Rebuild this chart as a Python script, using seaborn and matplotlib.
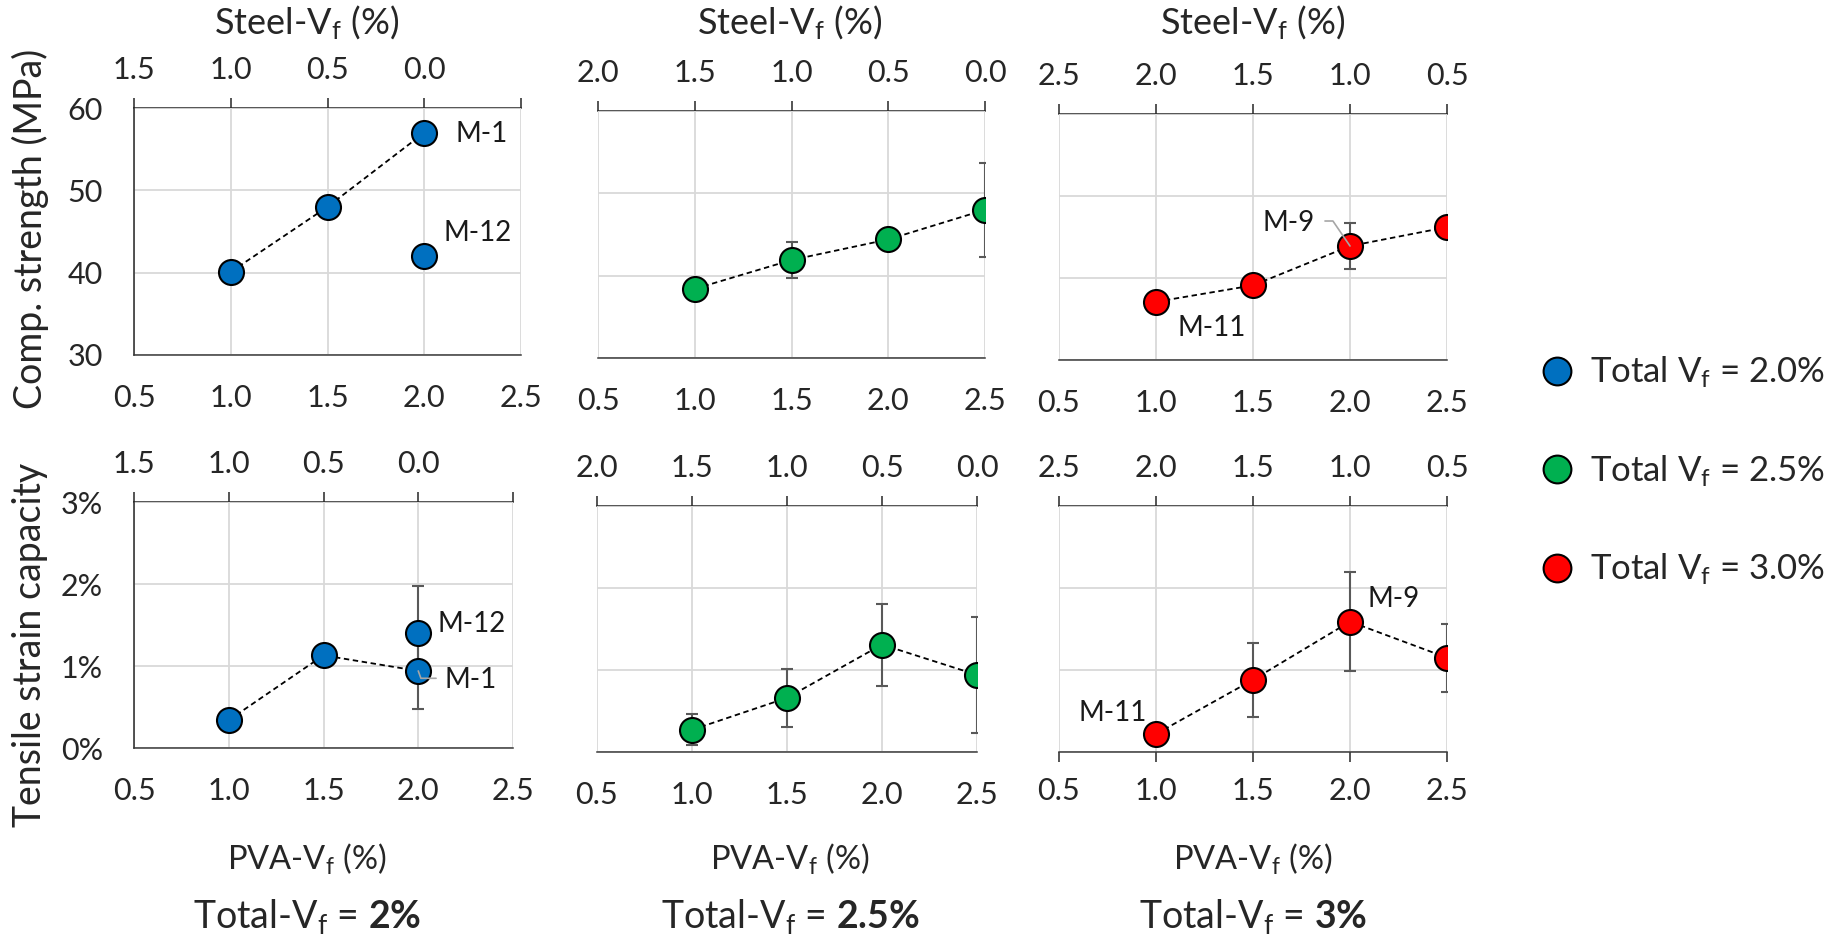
import matplotlib
matplotlib.use("Agg")
import matplotlib.pyplot as plt
from matplotlib.lines import Line2D
import seaborn as sns

sns.set_style("white")
plt.rcParams["font.family"] = ["Lato", "DejaVu Sans"]
plt.rcParams["mathtext.fontset"] = "custom"
plt.rcParams["mathtext.rm"] = "Lato"
plt.rcParams["mathtext.bf"] = "Lato:bold"
plt.rcParams["mathtext.it"] = "Lato:italic"
plt.rcParams["mathtext.default"] = "regular"

# ---- data ----
pva_ticks = [0.5, 1.0, 1.5, 2.0, 2.5]
pva_tick_labels = ["0.5", "1.0", "1.5", "2.0", "2.5"]
steel_labels_2 = ["1.5", "1.0", "0.5", "0.0", ""]
steel_labels_25 = ["2.0", "1.5", "1.0", "0.5", "0.0"]
steel_labels_3 = ["2.5", "2.0", "1.5", "1.0", "0.5"]

comp_ticks = [30, 40, 50, 60]
comp_tick_labels = ["30", "40", "50", "60"]
strain_ticks = [0, 1, 2, 3]
strain_tick_labels = ["0%", "1%", "2%", "3%"]

# Total Vf = 2.0 %
pva_2 = [1.0, 1.5, 2.0]
comp_2 = [40.1, 48.0, 57.0]
comp_2_err = [0, 0, 0]
strain_2 = [0.34, 1.13, 0.94]
strain_2_err = [0, 0, 0.46]
m12_pva = [2.0]
m12_comp = [42.0]
m12_strain = [1.40]
m12_strain_err = [0.58]

# Total Vf = 2.5 %
pva_25 = [1.0, 1.5, 2.0, 2.5]
comp_25 = [38.4, 41.9, 44.4, 48.0]
comp_25_err = [0, 2.2, 0, 5.7]
strain_25 = [0.27, 0.66, 1.31, 0.94]
strain_25_err = [0.19, 0.35, 0.50, 0.71]

# Total Vf = 3.0 %
pva_3 = [1.0, 1.5, 2.0, 2.5]
comp_3 = [37.1, 39.1, 43.9, 46.2]
comp_3_err = [0, 0, 2.85, 0]
strain_3 = [0.22, 0.88, 1.59, 1.15]
strain_3_err = [0, 0.45, 0.60, 0.415]

colors = ["#0070C0", "#00B050", "#FF0000"]
legend_labels = [r"Total V$_{f}$ = 2.0%", r"Total V$_{f}$ = 2.5%", r"Total V$_{f}$ = 3.0%"]
totals_bold = [r"Total-V$_{f}$ = $\mathbf{2\%}$", r"Total-V$_{f}$ = $\mathbf{2.5\%}$",
               r"Total-V$_{f}$ = $\mathbf{3\%}$"]

W, H = 1827, 940
fig = plt.figure(figsize=(W / 100, H / 100), dpi=100)

# panel boxes in pixels: left, top, right, bottom
boxes = [
    [(134, 108, 521, 355), (598, 111, 985, 358), (1059, 114, 1447, 360)],
    [(134, 502, 513, 748), (597, 506, 977, 752), (1059, 506, 1447, 752)],
]

TICK_FS = 22


def add_ax(box):
    l, t, r, b = box
    return fig.add_axes([l / W, 1 - b / H, (r - l) / W, (b - t) / H])


def style_panel(ax, ylim, yticks, ylabels, steel_labels, first_col, bottom_ticks):
    ax.set_xlim(0.5, 2.5)
    ax.set_ylim(*ylim)
    ax.set_xticks(pva_ticks, labels=pva_tick_labels)
    ax.set_yticks(yticks, labels=ylabels)
    ax.grid(True, color="#d9d9d9", linewidth=1.3)
    ax.set_axisbelow(True)
    ax.set_xlabel("")
    ax.set_ylabel("")
    for s in ["top", "right"]:
        ax.spines[s].set_visible(False)
    ax.spines["left"].set_visible(first_col)
    ax.spines["left"].set_color("#262626")
    ax.spines["bottom"].set_color("#3a3a3a")
    for s in ["left", "bottom"]:
        ax.spines[s].set_linewidth(1.1)
    ax.tick_params(axis="y", left=False, labelleft=first_col, labelsize=TICK_FS, pad=19)
    if bottom_ticks:
        ax.tick_params(axis="x", bottom=True, direction="out", length=7, width=1.1,
                       color="#262626", labelsize=TICK_FS, pad=11)
    else:
        ax.tick_params(axis="x", bottom=False, labelsize=TICK_FS, pad=17.5)
    sec = ax.secondary_xaxis("top")
    sec.set_xticks(pva_ticks, labels=steel_labels)
    sec.tick_params(direction="out", length=7, width=1.1, color="#262626",
                    labelsize=TICK_FS, pad=10.5)
    sec.spines["top"].set_color("#262626")
    sec.spines["top"].set_linewidth(1.1)


def draw_series(ax, x, y, err, color):
    ax.errorbar(x, y, yerr=err, fmt="none", ecolor="#595959", elinewidth=1.5,
                capsize=4.5, capthick=1.5, zorder=1)
    sns.lineplot(x=x, y=y, ax=ax, color="black", linewidth=1.3,
                 linestyle=(0, (3, 2)), zorder=2)
    sns.scatterplot(x=x, y=y, ax=ax, color=color, s=324, edgecolor="black",
                    linewidth=1.5, zorder=4, legend=False)


series = [
    (pva_2, comp_2, comp_2_err, strain_2, strain_2_err, steel_labels_2),
    (pva_25, comp_25, comp_25_err, strain_25, strain_25_err, steel_labels_25),
    (pva_3, comp_3, comp_3_err, strain_3, strain_3_err, steel_labels_3),
]

axes = []
for col, (x, comp, comp_err, strain, strain_err, steel_labels) in enumerate(series):
    ax_top = add_ax(boxes[0][col])
    draw_series(ax_top, x, comp, comp_err, colors[col])
    style_panel(ax_top, (30, 60), comp_ticks, comp_tick_labels, steel_labels,
                col == 0, False)

    ax_bot = add_ax(boxes[1][col])
    draw_series(ax_bot, x, strain, strain_err, colors[col])
    style_panel(ax_bot, (0, 3), strain_ticks, strain_tick_labels, steel_labels,
                col == 0, col == 2)
    axes.append((ax_top, ax_bot))

# extra M-12 point (not connected)
ax1, ax4 = axes[0]
sns.scatterplot(x=m12_pva, y=m12_comp, ax=ax1, color=colors[0], s=324,
                edgecolor="black", linewidth=1.5, zorder=4, legend=False)
ax4.errorbar(m12_pva, m12_strain, yerr=m12_strain_err, fmt="none", ecolor="#595959",
             elinewidth=1.5, capsize=4.5, capthick=1.5, zorder=1)
sns.scatterplot(x=m12_pva, y=m12_strain, ax=ax4, color=colors[0], s=324,
                edgecolor="black", linewidth=1.5, zorder=4, legend=False)

# annotations
ann = dict(fontsize=20, va="center", ha="left", color="#1a1a1a")
ax1.text(2.16, 56.8, "M-1", **ann)
ax1.text(2.10, 44.8, "M-12", **ann)
ax4.text(2.10, 1.51, "M-12", **ann)
ax4.text(2.14, 0.83, "M-1", **ann)
ax4.plot([2.0, 2.014, 2.094], [0.94, 0.85, 0.85], color="#a6a6a6", lw=1.2, zorder=5)

ax3, ax6 = axes[2]
ax3.text(1.55, 46.7, "M-9", **ann)
ax3.text(1.11, 33.9, "M-11", **ann)
ax3.plot([1.871, 1.912, 2.0], [46.95, 46.95, 43.9], color="#a6a6a6", lw=1.2, zorder=5)
ax6.text(2.09, 1.87, "M-9", **ann)
ax6.text(0.60, 0.47, "M-11", **ann)

# figure-level labels
col_centers = [307, 790, 1253]
for cx, tot in zip(col_centers, totals_bold):
    fig.text(cx / W, 1 - 23 / H, r"Steel-V$_{f}$ (%)", fontsize=26, ha="center", va="center")
    fig.text(cx / W, 1 - 859 / H, r"PVA-V$_{f}$ (%)", fontsize=23.5, ha="center", va="center")
    fig.text(cx / W, 1 - 916 / H, tot, fontsize=27, ha="center", va="center")

fig.text(30 / W, 1 - 229 / H, "Comp. strength (MPa)", fontsize=27, rotation=90,
         ha="center", va="center")
fig.text(30 / W, 1 - 645 / H, "Tensile strain capacity", fontsize=27, rotation=90,
         ha="center", va="center")

handles = [Line2D([], [], marker="o", ls="", markersize=20, markerfacecolor=c,
                  markeredgecolor="black", markeredgewidth=1.5) for c in colors]
fig.legend(handles, legend_labels, loc="center left", bbox_to_anchor=(1508 / W, 1 - 471 / H),
           frameon=False, fontsize=25, labelspacing=1.82, handlelength=1.0,
           handletextpad=0.45)

fig.savefig("out.png", dpi=100)
